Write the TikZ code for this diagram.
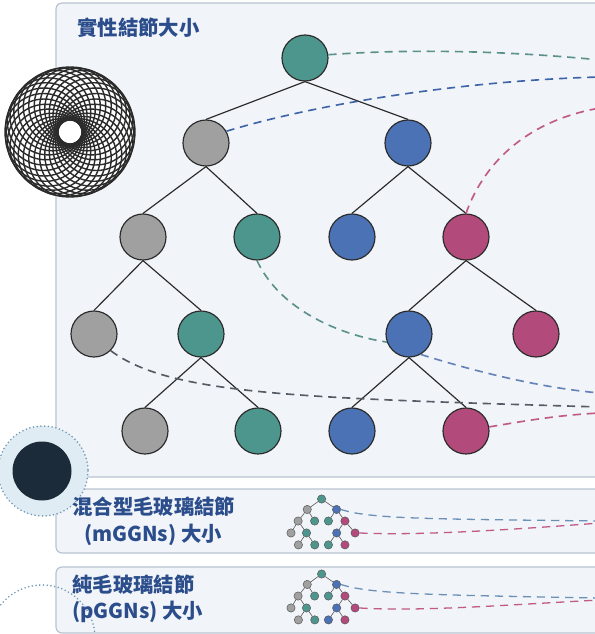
\documentclass[tikz,border=0pt]{standalone}
\usepackage{fontspec}
\newfontfamily\cjk{Noto Sans CJK TC}
\definecolor{nteal}{HTML}{4D968E}
\definecolor{ngrey}{HTML}{A0A0A0}
\definecolor{nblue}{HTML}{4B72B4}
\definecolor{nmag}{HTML}{B24B7C}
\definecolor{nline}{HTML}{2B2B2B}
\definecolor{panelfill}{HTML}{F1F4F8}
\definecolor{panelline}{HTML}{B9C3D0}
\definecolor{labelblue}{HTML}{2B4D8C}
\definecolor{haloblue}{HTML}{E0ECF3}
\definecolor{ringblue}{HTML}{6F98B6}
\definecolor{darkdot}{HTML}{1C2B3A}
\definecolor{dgrey}{HTML}{555C66}
\definecolor{dteal}{HTML}{5A918B}
\definecolor{dblue}{HTML}{3F64A8}
\definecolor{dmag}{HTML}{C05A86}
\definecolor{lblue}{HTML}{6A90B8}

\tikzset{
  panel/.style={draw=panelline,fill=panelfill,line width=1pt,rounded corners=0.18cm},
  tnode/.style={circle,draw=nline,line width=1pt,minimum size=1.38cm,inner sep=0pt},
  mnode/.style={circle,draw=nline!80,line width=0.4pt,minimum size=0.25cm,inner sep=0pt},
  edge/.style={draw=nline,line width=1pt},
  minedge/.style={draw=nline!80,line width=0.5pt},
  link/.style={line width=1.4pt,dash pattern=on 7pt off 5pt},
  ring/.style={draw=ringblue,line width=1.5pt,dash pattern=on 0pt off 3.2pt,line cap=round},
  label/.style={text=labelblue,font=\cjk\bfseries\fontsize{17.4}{21}\selectfont,anchor=west,inner sep=0pt}
}

\begin{document}
\begin{tikzpicture}[x=0.03cm,y=-0.03cm]
  \clip (0,0) rectangle (595,634);
  \fill[white] (0,0) rectangle (595,634);

  % panels
  \draw[panel] (56,3) rectangle (630,477);
  \draw[panel] (56,489) rectangle (630,553);
  \draw[panel] (56,567) rectangle (630,633);

  % ring of circles on the left
  \fill[white] (70,132) circle (65);
  \foreach \a in {0,12,...,348}
    \draw[nline,line width=1.2pt] (70,132) ++(\a:26.5) circle (38.5);

  % dark dot with its halo
  \fill[haloblue] (43,471) circle (45);
  \draw[ring] (43,471) circle (45);
  \fill[darkdot] (42,471) circle (29.5);
  \draw[ring] (42,638) circle (53);

  % labels
  \node[label] (title) at (77,28) {實性結節大小};
  \node[label] (mixa) at (72,507) {混合型毛玻璃結節};
  \node[label] (mixb) at (84,535) {(mGGNs) 大小};
  \node[label] (purea) at (72,585) {純毛玻璃結節};
  \node[label] (pureb) at (72,612) {(pGGNs) 大小};

  % big tree
  \foreach \n/\x/\y/\c in {r/305/58/nteal,
      g1/206/143/ngrey, b1/408/143/nblue,
      g2/143/237/ngrey, t2/257/237/nteal, b2/352/237/nblue, m2/466/237/nmag,
      g3/94/334/ngrey, t3/201/334/nteal, b3/409/334/nblue, m3/536/334/nmag,
      g4/145/431/ngrey, t4/258/431/nteal, b4/352/431/nblue, m4/466/431/nmag}
    \node[tnode,fill=\c] (\n) at (\x,\y) {};

  % small trees (s = mixed, p = pure)
  \foreach \n/\x/\y/\ca/\cb in {r/305/58/nteal/nteal,
      g1/206/143/ngrey/ngrey, b1/408/143/nblue/nblue,
      g2/143/237/ngrey/ngrey, t2/257/237/nteal/nteal, b2/352/237/nteal/nteal, m2/466/237/nmag/nmag,
      g3/94/334/ngrey/ngrey, t3/201/334/nteal/nteal, b3/409/334/nblue/nblue, m3/536/334/nmag/nmag,
      g4/145/431/ngrey/ngrey, t4/258/431/nteal/nteal, b4/352/431/nteal/nblue, m4/466/431/nmag/nmag} {
    \node[mnode,fill=\ca] (s\n) at ({291+(\x-94)*0.145},{499+(\y-58)*0.123}) {};
    \node[mnode,fill=\cb] (p\n) at ({291+(\x-94)*0.145},{574+(\y-58)*0.123}) {};
  }

  \foreach \from/\to in {r/g1,r/b1,g1/g2,g1/t2,b1/b2,b1/m2,g2/g3,g2/t3,
      t3/g4,t3/t4,m2/b3,m2/m3,b3/b4,b3/m4} {
    \draw[edge] (\from.south) -- (\to.north);
    \draw[minedge] (s\from) -- (s\to);
    \draw[minedge] (p\from) -- (p\to);
  }

  % free ends at the right border
  \coordinate (e1) at (600,60);
  \coordinate (e2) at (600,77);
  \coordinate (e3) at (600,108);
  \coordinate (e4) at (600,393);
  \coordinate (e5) at (600,407);
  \coordinate (e6) at (600,413);
  \coordinate (e7) at (600,521);
  \coordinate (e8) at (600,523);
  \coordinate (e9) at (600,598);
  \coordinate (e10) at (600,600);

  \draw[link,dteal] (r.8) .. controls (420,48) and (520,52) .. (e1);
  \draw[link,dblue] (g1.30) .. controls (330,100) and (480,80) .. (e2);
  \draw[link,dmag] (m2.north) .. controls (485,160) and (530,120) .. (e3);
  \draw[link,dteal] (t2.south) .. controls (280,310) and (340,335) .. (b3.200);
  \draw[link,dblue!80] (b3.300) .. controls (470,370) and (540,388) .. (e4);
  \draw[link,dgrey] (g3.315) .. controls (170,395) and (300,398) .. (e5);
  \draw[link,dmag] (m4.10) .. controls (530,420) and (560,415) .. (e6);

  \draw[link,lblue,line width=1.1pt] (sb1.east) .. controls (370,519) and (430,519) .. (e7);
  \draw[link,dmag,line width=1.1pt] (sm3.east) .. controls (420,536) and (520,529) .. (e8);
  \draw[link,lblue,line width=1.1pt] (pb1.east) .. controls (370,594) and (430,595) .. (e9);
  \draw[link,dmag,line width=1.1pt] (pm3.east) .. controls (420,612) and (520,604) .. (e10);
\end{tikzpicture}
\end{document}
